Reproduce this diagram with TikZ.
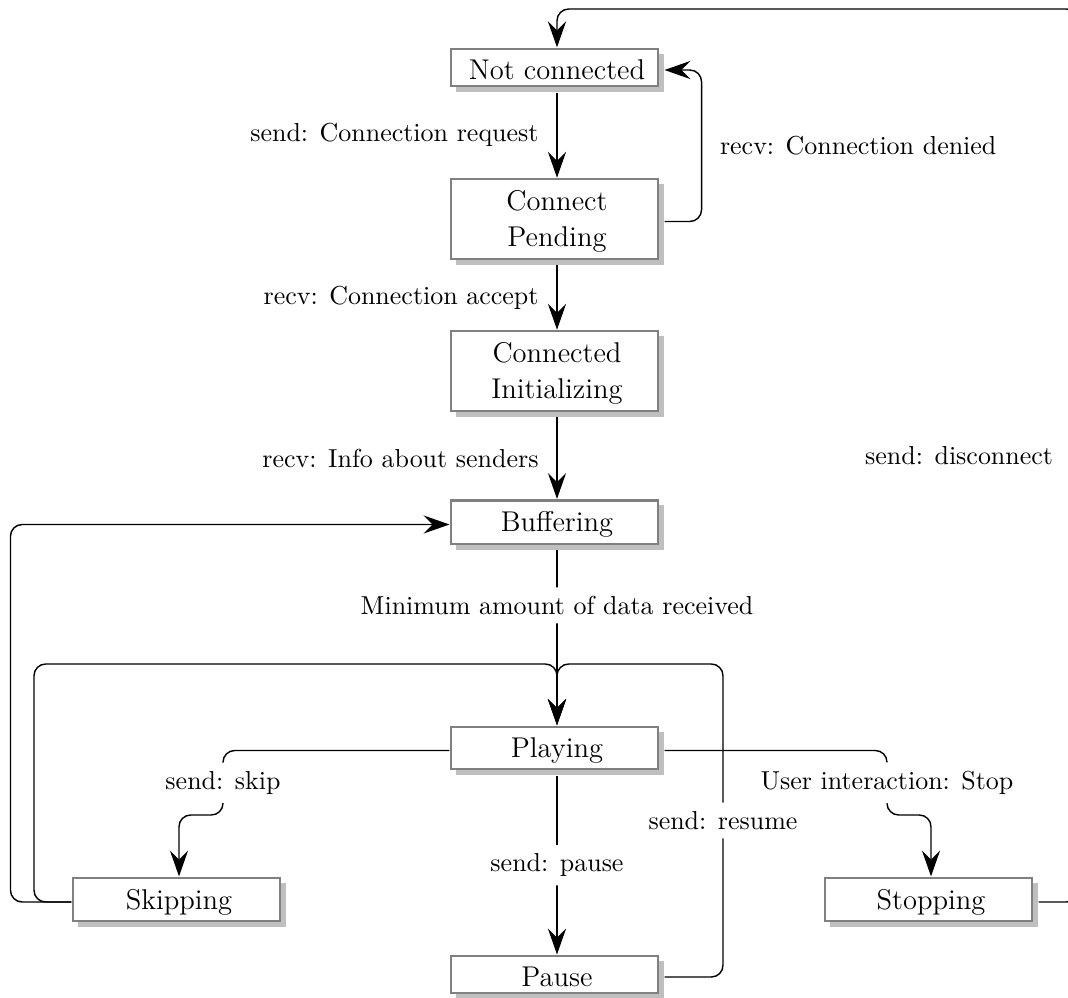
\documentclass[tikz,border=0pt]{standalone}
\usetikzlibrary{arrows.meta}

\definecolor{boxline}{gray}{0.5}
\definecolor{boxshade}{gray}{0.75}

\tikzset{
  % state box: the node spans box plus shadow, the box and shadow are painted inside
  state/.style={rectangle, draw=none, minimum width=82.4pt, inner xsep=0pt, inner ysep=4.65pt,
    align=center, font=\fontsize{11}{14}\selectfont,
    path picture={
      \fill[boxshade] ([xshift=2.2pt,yshift=-2.3pt]path picture bounding box.north west)
        rectangle (path picture bounding box.south east);
      \draw[boxline, line width=0.8pt, fill=white]
        ([xshift=0.4pt,yshift=-0.4pt]path picture bounding box.north west)
        rectangle ([xshift=-2.3pt,yshift=2.3pt]path picture bounding box.south east);
    }},
  conn/.style={draw, line width=0.55pt, rounded corners=4.5pt,
    -{Stealth[length=10pt,width=7pt,inset=3.5pt]}},
  lbl/.style={font=\fontsize{10}{12}\selectfont},
  cut/.style={fill=white},
}

\begin{document}
\begin{tikzpicture}[x=0.385pt, y=-0.385pt]
  \useasboundingbox (0,0) rectangle (1068,998);
  \clip (0,0) rectangle (1068,998);

  % states
  \node[state] (nc)    at (557,70)    {Not connected};
  \node[state] (cp)    at (557,221.5) {Connect\\Pending};
  \node[state] (ci)    at (557,373.5) {Connected\\Initializing};
  \node[state] (buf)   at (557,524.5) {Buffering};
  \node[state] (play)  at (557,750.5) {Playing};
  \node[state] (skip)  at (179,902)   {Skipping};
  \node[state] (stop)  at (931,902)   {Stopping};
  \node[state] (pause) at (557,977)   {Pause};

  % bend points of the routed connectors
  \coordinate (sk1) at (223,815);
  \coordinate (st1) at (887,815);
  \coordinate (rs1) at (723,664);
  \coordinate (sp1) at (34,664);
  \coordinate (dc)  at (1078,9);

  % connection set-up
  \draw[conn] (nc.south) -- node[lbl, left=3.5pt] {send: Connection request} (cp.north);
  \draw[conn] (cp.east) -- ++(37,0) |- node[lbl, pos=0.25, right=3.5pt] {recv: Connection denied} (nc.east);
  \draw[conn] (cp.south) -- node[lbl, left=3.5pt] {recv: Connection accept} (ci.north);
  \draw[conn] (ci.south) -- node[lbl, left=3.5pt] {recv: Info about senders} (buf.north);
  \draw[conn] (buf.south) -- node[lbl, cut, pos=0.316] {Minimum amount of data received} (play.north);

  % playback
  \draw[conn] (play.west) -| node[lbl, cut, pos=0.75] {send: skip} (sk1) -| (skip.north);
  \draw[conn] (play.east) -| node[lbl, cut, pos=0.75] {User interaction: Stop} (st1) -| (stop.north);
  \draw[conn] (play.south) -- node[lbl, cut] {send: pause} (pause.north);
  \draw[conn] (pause.east) -| node[lbl, cut, pos=0.75] {send: resume} (rs1) -| (play.north);

  % returns from skipping
  \draw[conn] (skip.west) -| (sp1) -| (play.north);
  \draw[conn] (skip.west) -- ++(-61,0) |- (buf.west);

  % disconnect
  \draw[conn] (stop.east) -| node[lbl, pos=0.75, left=6pt] {send: disconnect} (dc) -| (nc.north);
\end{tikzpicture}
\end{document}
